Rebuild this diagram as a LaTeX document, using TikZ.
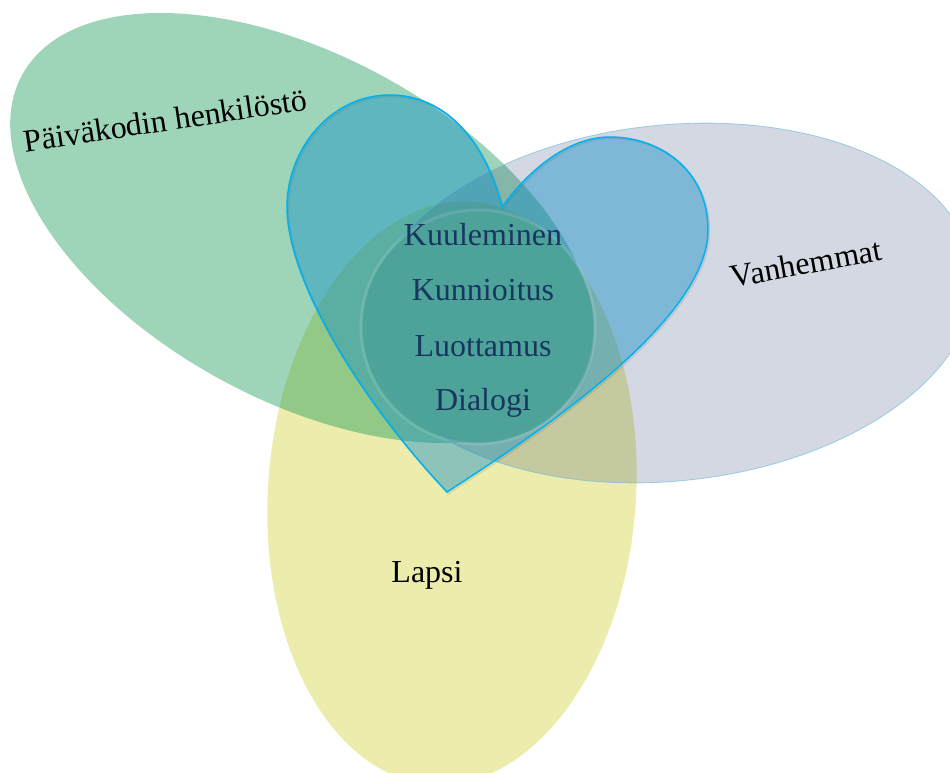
\documentclass[tikz,border=0pt]{standalone}
\usepackage{fontspec}
\setmainfont{Liberation Serif}
\definecolor{staffgreen}{RGB}{12,150,80}
\definecolor{childyellow}{RGB}{213,213,72}
\definecolor{parentnavy}{RGB}{35,60,110}
\definecolor{parentline}{RGB}{120,190,220}
\definecolor{heartblue}{RGB}{16,142,198}
\definecolor{heartline}{RGB}{0,176,240}
\definecolor{coreteal}{RGB}{77,163,152}
\definecolor{wordnavy}{RGB}{23,55,94}
\begin{document}
\begin{tikzpicture}[x=1pt, y=-1pt,
    every node/.style={font=\fontsize{32}{38}\selectfont, inner sep=0pt, anchor=base},
    word/.style={text=wordnavy}]
  \useasboundingbox (0,0) rectangle (950,773);
  % Lapsi: the child
  \fill[childyellow, fill opacity=0.45, rotate around={-4:(452,493)}]
    (452,493) ellipse [x radius=184pt, y radius=292pt];
  % Paivakodin henkilosto: the staff
  \fill[staffgreen, fill opacity=0.4, rotate around={-28.7:(302,228)}]
    (302,228) ellipse [x radius=319pt, y radius=172pt];
  % Vanhemmat: the parents
  \path[fill=parentnavy, fill opacity=0.2, draw=parentline, draw opacity=0.7,
        line width=0.8pt, rotate around={6:(670,303)}]
    (670,303) ellipse [x radius=305pt, y radius=178pt];
  % Heart: shadow, then the shape
  \draw[black, opacity=0.1, line width=1.5pt, shift={(1.5,1.5)}]
    (502,207) .. controls (485,140) and (445,95) .. (390,95)
    .. controls (330,95) and (287,150) .. (287,207)
    .. controls (287,280) and (360,400) .. (447,492)
    .. controls (540,432) and (708,320) .. (708,230)
    .. controls (708,170) and (660,137) .. (610,137)
    .. controls (565,137) and (525,175) .. (502,207) -- cycle;
  \path[fill=heartblue, fill opacity=0.43, draw=heartline, line width=1.5pt]
    (502,207) .. controls (485,140) and (445,95) .. (390,95)
    .. controls (330,95) and (287,150) .. (287,207)
    .. controls (287,280) and (360,400) .. (447,492)
    .. controls (540,432) and (708,320) .. (708,230)
    .. controls (708,170) and (660,137) .. (610,137)
    .. controls (565,137) and (525,175) .. (502,207) -- cycle;
  % Core circle with soft rim
  \fill[coreteal, fill opacity=0.9] (478,327) circle [radius=116pt];
  \draw[white, opacity=0.12, line width=3pt] (478,327) circle [radius=117pt];
  % Labels
  \node[rotate=8.6] (PK) at (167,131) {Päiväkodin henkilöstö};
  \node[rotate=10.4] (VH) at (808,274) {Vanhemmat};
  \node (LA) at (427,582) {Lapsi};
  \node[word] (KU) at (483,245) {Kuuleminen};
  \node[word] (KN) at (483,300) {Kunnioitus};
  \node[word] (LU) at (483,356) {Luottamus};
  \node[word] (DI) at (483,410) {Dialogi};
\end{tikzpicture}
\end{document}
